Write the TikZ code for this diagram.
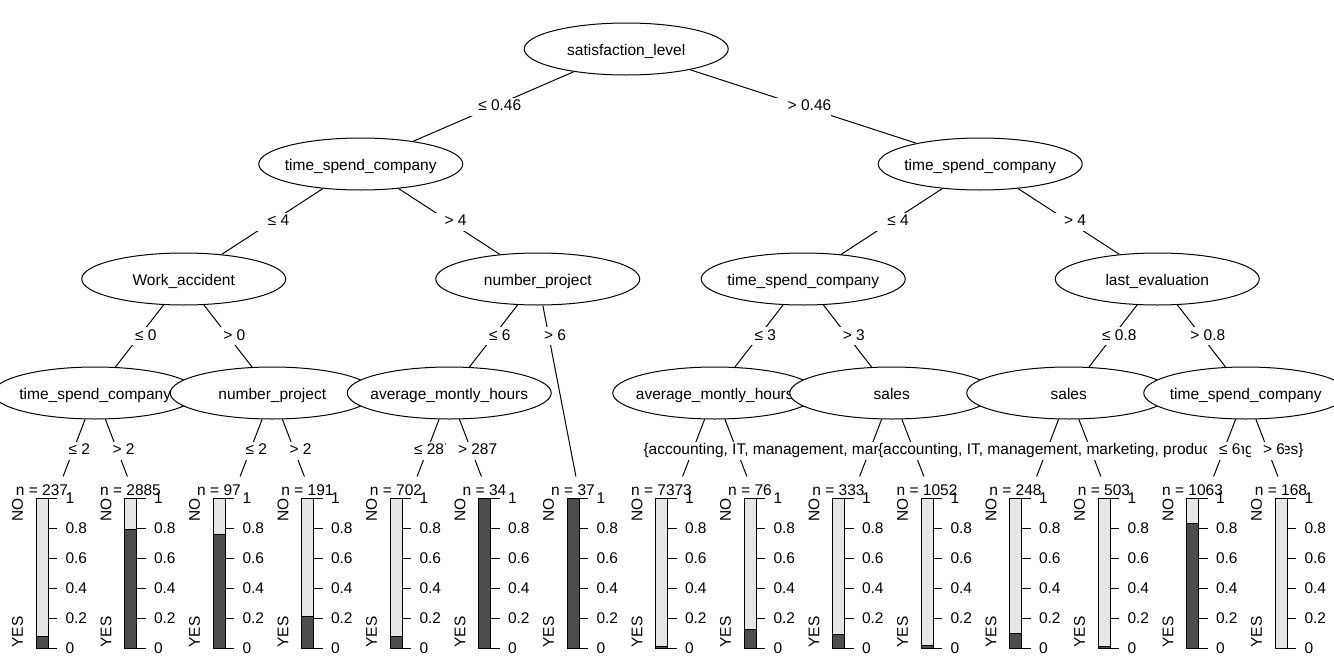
\documentclass[tikz,border=0pt]{standalone}
\usepackage{fontspec}
\setmainfont{Liberation Sans}
\usetikzlibrary{shapes.geometric,calc}

\definecolor{noshade}{HTML}{E6E6E6}
\definecolor{yesshade}{HTML}{4D4D4D}

\newcommand{\splitle}[1]{\hspace{12.5pt}≤ #1}
\newcommand{\splitgt}[1]{\hspace{12.5pt}> #1}

\tikzset{
  splitnode/.style={ellipse, draw, fill=white, minimum width=204pt, minimum height=52pt,
    inner sep=0pt, text height=13pt, text depth=0pt},
  edgelab/.style={fill=white, inner xsep=0pt, inner ysep=1.5pt, text height=11.5pt, text depth=3.5pt},
  leafbox/.style={rectangle, minimum width=88pt, minimum height=62pt, inner sep=0pt},
  ylab/.style={rotate=90, inner sep=0pt},
}

\begin{document}
\begin{tikzpicture}[x=1pt, y=-1pt, line width=1pt, font=\fontsize{15.5}{18}\selectfont]
  \clip (0,0) rectangle (1334,672);
  \fill[white] (0,0) rectangle (1334,672);

  % terminal panels
  \foreach \i/\n/\p in {1/237/0.075, 2/2885/0.79, 3/97/0.76, 4/191/0.213,
      5/702/0.075, 6/34/1, 7/37/1, 8/7373/0.01, 9/76/0.125, 10/333/0.09,
      11/1052/0.02, 12/248/0.1, 13/503/0.007, 14/1063/0.83, 15/168/0} {
    \pgfmathsetmacro{\c}{51+88.5*(\i-1)}
    \pgfmathsetmacro{\h}{648-150*\p}
    \node[leafbox] (leaf\i) at (\c,508) {};
    \filldraw[fill=noshade] (\c-15,498) rectangle (\c-3,\h);
    \filldraw[fill=yesshade] (\c-15,\h) rectangle (\c-3,648);
    \node[anchor=base] (n\i) at (\c-9,495) {n = \n};
    \node[ylab, anchor=east] (no\i) at (\c-33.5,498) {NO};
    \node[ylab, anchor=west] (yes\i) at (\c-33.5,648) {YES};
    \foreach \t/\l [count=\k] in {0/0, 0.2/0.2, 0.4/0.4, 0.6/0.6, 0.8/0.8, 1/1} {
      \draw (\c-3,648-150*\t) -- (\c+6,648-150*\t);
      \node[anchor=west, inner sep=0pt] (tk\i-\k) at (\c+14,648-150*\t) {\l};
    }
  }

  % inner nodes
  \node[splitnode] (root) at (626.25,49) {\makebox[0pt]{satisfaction\_level}};
  \node[splitnode] (tscL) at (360.75,164) {\makebox[0pt]{time\_spend\_company}};
  \node[splitnode] (tscR) at (980.25,164) {\makebox[0pt]{time\_spend\_company}};
  \node[splitnode] (work) at (183.75,279) {\makebox[0pt]{Work\_accident}};
  \node[splitnode] (npA) at (537.75,279) {\makebox[0pt]{number\_project}};
  \node[splitnode] (tscM) at (803.25,279) {\makebox[0pt]{time\_spend\_company}};
  \node[splitnode] (lasteval) at (1157.25,279) {\makebox[0pt]{last\_evaluation}};
  \node[splitnode] (tscA) at (95.25,393) {\makebox[0pt]{time\_spend\_company}};
  \node[splitnode] (npB) at (272.25,393) {\makebox[0pt]{number\_project}};
  \node[splitnode] (amhA) at (449.25,393) {\makebox[0pt]{average\_montly\_hours}};
  \node[splitnode] (amhB) at (714.75,393) {\makebox[0pt]{average\_montly\_hours}};
  \node[splitnode] (salesA) at (891.75,393) {\makebox[0pt]{sales}};
  \node[splitnode] (salesB) at (1068.75,393) {\makebox[0pt]{sales}};
  \node[splitnode] (tscB) at (1245.75,393) {\makebox[0pt]{time\_spend\_company}};

  % edges
  \foreach \a/\b in {root/tscL, root/tscR, tscL/work, tscL/npA, tscR/tscM, tscR/lasteval,
      work/tscA, work/npB, npA/amhA, npA/leaf7, tscM/amhB, tscM/salesA,
      lasteval/salesB, lasteval/tscB, tscA/leaf1, tscA/leaf2, npB/leaf3, npB/leaf4,
      amhA/leaf5, amhA/leaf6, amhB/leaf8, amhB/leaf9, salesA/leaf10, salesA/leaf11,
      salesB/leaf12, salesB/leaf13, tscB/leaf14, tscB/leaf15}
    \draw (\a) -- (\b);

  % edge labels
  \node[edgelab] (l1) at ($(root)!0.5!(tscL)$) {\splitle{0.46}};
  \node[edgelab] (l2) at ($(root)!0.5!(tscR)$) {\splitgt{0.46}};
  \node[edgelab] (l3) at ($(tscL)!0.5!(work)$) {\splitle{4}};
  \node[edgelab] (l4) at ($(tscL)!0.5!(npA)$) {\splitgt{4}};
  \node[edgelab] (l5) at ($(tscR)!0.5!(tscM)$) {\splitle{4}};
  \node[edgelab] (l6) at ($(tscR)!0.5!(lasteval)$) {\splitgt{4}};
  \node[edgelab] (l7) at ($(work)!0.5!(tscA)$) {\splitle{0}};
  \node[edgelab] (l8) at ($(work)!0.5!(npB)$) {\splitgt{0}};
  \node[edgelab] (l9) at ($(npA)!0.5!(amhA)$) {\splitle{6}};
  \node[edgelab] (l10) at ($(npA)!0.25!(leaf7)$) {\splitgt{6}};
  \node[edgelab] (l11) at ($(tscM)!0.5!(amhB)$) {\splitle{3}};
  \node[edgelab] (l12) at ($(tscM)!0.5!(salesA)$) {\splitgt{3}};
  \node[edgelab] (l13) at ($(lasteval)!0.5!(salesB)$) {\splitle{0.8}};
  \node[edgelab] (l14) at ($(lasteval)!0.5!(tscB)$) {\splitgt{0.8}};

  \node[edgelab] (l15) at ($(tscA)!0.5!(leaf1)$) {\splitle{2}};
  \node[edgelab] (l16) at ($(tscA)!0.5!(leaf2)$) {\splitgt{2}};
  \node[edgelab] (l17) at ($(npB)!0.5!(leaf3)$) {\splitle{2}};
  \node[edgelab] (l18) at ($(npB)!0.5!(leaf4)$) {\splitgt{2}};
  \node[edgelab] (l19) at ($(amhA)!0.5!(leaf5)$) {\splitle{287}};
  \node[edgelab] (l20) at ($(amhA)!0.5!(leaf6)$) {\splitgt{287}};
  \node[edgelab, anchor=west] (setA) at (643,450.5) {\{accounting, IT, management, mar};
  \node[edgelab] (setB) at ($(salesB)!0.5!(leaf13)$)
    {\{accounting, IT, management, marketing, product\_mng, sales\}};
  \node[edgelab] (l21) at ($(tscB)!0.5!(leaf14)$) {\splitle{6}};
  \node[edgelab] (l22) at ($(tscB)!0.5!(leaf15)$) {\splitgt{6}};
\end{tikzpicture}
\end{document}
